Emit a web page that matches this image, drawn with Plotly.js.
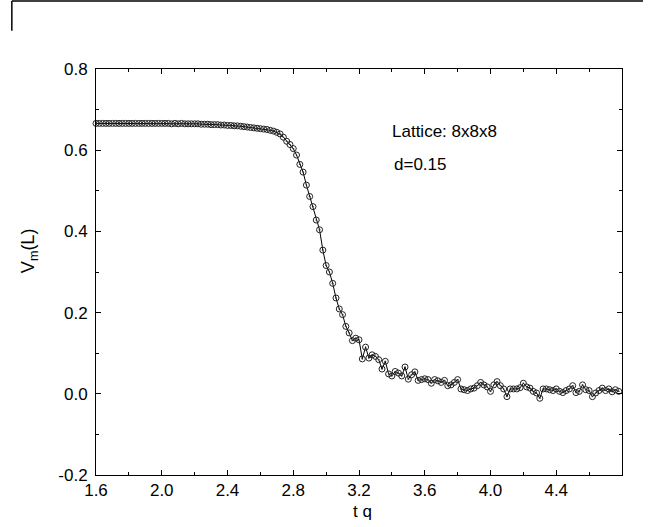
<!DOCTYPE html>
<html>
<head>
<meta charset="utf-8">
<script src="https://cdn.plot.ly/plotly-3.0.1.min.js"></script>
<style>html,body{margin:0;padding:0;background:#fff;}#chart{width:650px;height:527px;}</style>
</head>
<body>
<div id="chart"></div>
<script>
// t q values
var tq = [
1.60,1.62,1.64,1.66,1.68,1.70,1.72,1.74,1.76,1.78,
1.80,1.82,1.84,1.86,1.88,1.90,1.92,1.94,1.96,1.98,
2.00,2.02,2.04,2.06,2.08,2.10,2.12,2.14,2.16,2.18,
2.20,2.22,2.24,2.26,2.28,2.30,2.32,2.34,2.36,2.38,
2.40,2.42,2.44,2.46,2.48,2.50,2.52,2.54,2.56,2.58,
2.60,2.62,2.64,2.66,2.68,2.70,2.72,2.74,2.76,2.78,
2.80,2.82,2.84,2.86,2.88,2.90,2.92,2.94,2.96,2.98,
3.00,3.02,3.04,3.06,3.08,3.10,3.12,3.14,3.16,3.18,
3.20,3.22,3.24,3.26,3.28,3.30,3.32,3.34,3.36,3.38,
3.40,3.42,3.44,3.46,3.48,3.50,3.52,3.54,3.56,3.58,
3.60,3.62,3.64,3.66,3.68,3.70,3.72,3.74,3.76,3.78,
3.80,3.82,3.84,3.86,3.88,3.90,3.92,3.94,3.96,3.98,
4.00,4.02,4.04,4.06,4.08,4.10,4.12,4.14,4.16,4.18,
4.20,4.22,4.24,4.26,4.28,4.30,4.32,4.34,4.36,4.38,
4.40,4.42,4.44,4.46,4.48,4.50,4.52,4.54,4.56,4.58,
4.60,4.62,4.64,4.66,4.68,4.70,4.72,4.74,4.76,4.78
];
// V_m(L) values
var vm = [
0.666,0.666,0.666,0.666,0.666,0.666,0.666,0.666,0.666,0.666,
0.666,0.666,0.666,0.666,0.666,0.666,0.666,0.666,0.666,0.666,
0.666,0.666,0.666,0.665,0.666,0.665,0.666,0.665,0.665,0.665,
0.665,0.665,0.664,0.664,0.664,0.663,0.663,0.663,0.662,0.662,
0.661,0.661,0.660,0.660,0.659,0.658,0.657,0.656,0.655,0.654,
0.653,0.652,0.651,0.649,0.647,0.644,0.640,0.632,0.622,0.614,
0.604,0.588,0.565,0.546,0.514,0.486,0.461,0.428,0.404,0.354,
0.316,0.300,0.272,0.236,0.209,0.195,0.166,0.150,0.131,0.137,
0.133,0.086,0.115,0.088,0.096,0.092,0.084,0.061,0.080,0.049,
0.044,0.055,0.051,0.044,0.066,0.036,0.047,0.054,0.033,0.035,
0.037,0.035,0.026,0.035,0.032,0.028,0.033,0.020,0.022,0.028,
0.035,0.012,0.010,0.008,0.012,0.014,0.020,0.028,0.022,0.017,
0.006,0.022,0.030,0.020,0.012,-0.007,0.012,0.012,0.012,0.015,
0.026,0.017,0.014,0.006,0.002,-0.011,0.012,0.012,0.010,0.008,
0.012,0.006,0.003,0.008,0.012,0.020,0.003,0.006,0.022,0.010,
0.008,-0.007,0.002,0.008,0.014,0.008,0.012,0.005,0.010,0.006
];
var xTicks = [1.6,2.0,2.4,2.8,3.2,3.6,4.0,4.4];
var xTickText = ["1.6","2.0","2.4","2.8","3.2","3.6","4.0","4.4"];
var yTicks = [-0.2,0.0,0.2,0.4,0.6,0.8];
var yTickText = ["-0.2","0.0","0.2","0.4","0.6","0.8"];
var xTitle = "t q";
var yTitle = "V<sub>m</sub>(L)";
var labelLattice = "Lattice: 8x8x8";
var labelD = "d=0.15";

var font = "Liberation Sans, Arial, Helvetica, sans-serif";
var trace = {
  x: tq, y: vm, type: 'scatter', mode: 'lines+markers',
  line: {color: '#000', width: 1},
  marker: {symbol: 'circle-open-dot', size: 6, color: '#222', line: {width: 1, color: '#222'}},
  showlegend: false, cliponaxis: false
};
var axisCommon = {
  showline: true, linecolor: '#000', linewidth: 1, mirror: 'allticks',
  ticks: 'inside', ticklen: 5, tickwidth: 1, tickcolor: '#000',
  showgrid: false, zeroline: false,
  tickfont: {family: font, size: 17, color: '#000'}
};
var layout = {
  width: 650, height: 527,
  margin: {l: 96, r: 28, t: 69, b: 52},
  paper_bgcolor: '#fff', plot_bgcolor: '#fff',
  xaxis: Object.assign({}, axisCommon, {
    range: [1.6, 4.8], tickmode: 'array', tickvals: xTicks, ticktext: xTickText,
    minor: {dtick: 0.2, ticklen: 3, tickcolor: '#000', ticks: 'inside'}
  }),
  yaxis: Object.assign({}, axisCommon, {
    range: [-0.2, 0.8], tickmode: 'array', tickvals: yTicks, ticktext: yTickText,
    ticklabelstandoff: 4,
    minor: {dtick: 0.1, ticklen: 3, tickcolor: '#000', ticks: 'inside'}
  }),
  annotations: [
    {x: 3.39, y: 0.647, xref: 'x', yref: 'y', text: labelLattice, showarrow: false, xanchor: 'left', yanchor: 'middle', font: {family: font, size: 17, color: '#000'}},
    {x: 3.40, y: 0.564, xref: 'x', yref: 'y', text: labelD, showarrow: false, xanchor: 'left', yanchor: 'middle', font: {family: font, size: 17, color: '#000'}},
    {x: 0.506, y: -0.091, xref: 'paper', yref: 'paper', text: xTitle, showarrow: false, xanchor: 'center', yanchor: 'middle', font: {family: font, size: 17, color: '#000'}},
    {x: -0.125, y: 0.552, xref: 'paper', yref: 'paper', text: yTitle, showarrow: false, textangle: -90, xanchor: 'center', yanchor: 'middle', font: {family: font, size: 18, color: '#000'}}
  ],
  shapes: [
    {type: 'line', xref: 'paper', yref: 'paper', x0: -0.160, x1: 1.040, y0: 1.1675, y1: 1.1675, line: {color: '#000', width: 1.5}},
    {type: 'line', xref: 'paper', yref: 'paper', x0: -0.160, x1: -0.160, y0: 1.1675, y1: 1.094, line: {color: '#000', width: 1.5}}
  ]
};
Plotly.newPlot('chart', [trace], layout, {staticPlot: true, displayModeBar: false});
</script>
</body>
</html>
